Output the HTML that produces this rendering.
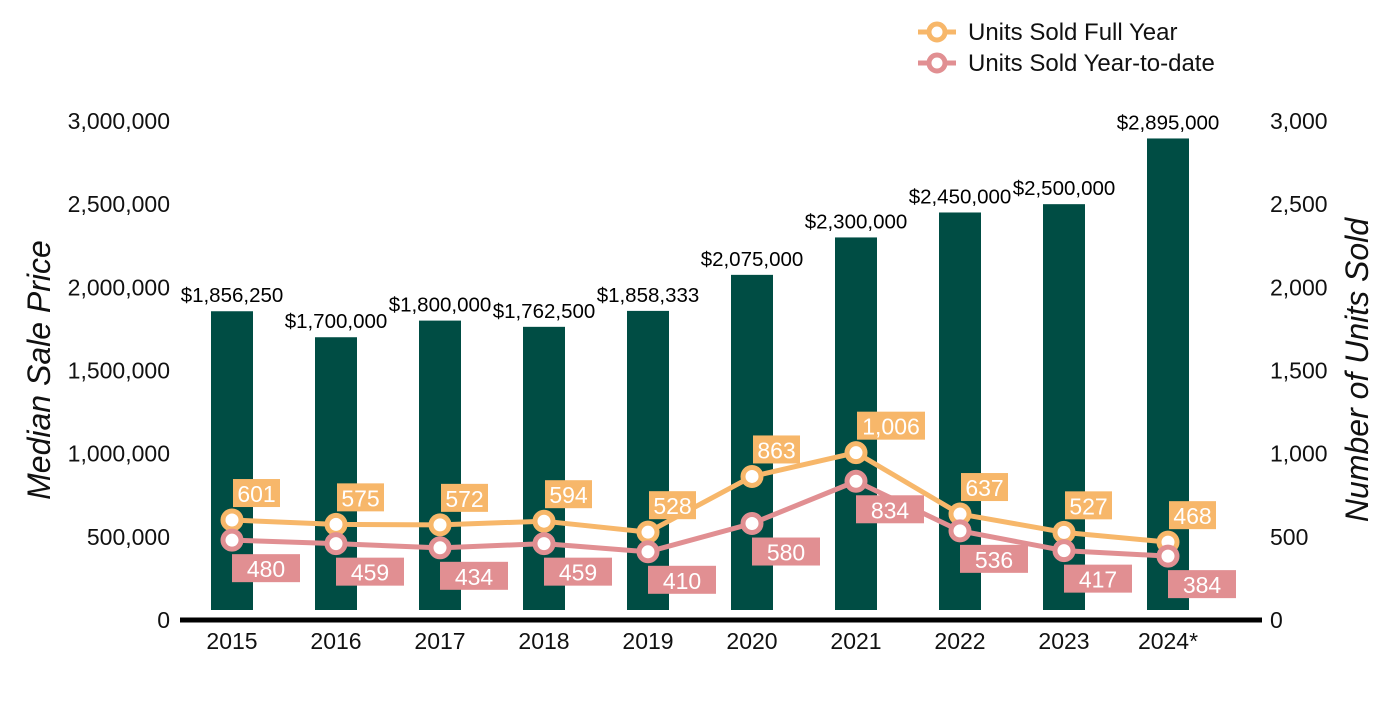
<!DOCTYPE html>
<html><head><meta charset="utf-8"><style>
body{margin:0;background:#fff;font-family:"Liberation Sans",Arial,sans-serif}
svg text{font-family:"Liberation Sans",Arial,sans-serif}
</style></head><body>
<svg id="c" width="1400" height="700"></svg>
<script>
const years=["2015","2016","2017","2018","2019","2020","2021","2022","2023","2024*"];
const prices=[1856250,1700000,1800000,1762500,1858333,2075000,2300000,2450000,2500000,2895000];
const fullYear=[601,575,572,594,528,863,1006,637,527,468];
const ytd=[480,459,434,459,410,580,834,536,417,384];
const leftTicks=[0,500000,1000000,1500000,2000000,2500000,3000000];
const rightTicks=[0,500,1000,1500,2000,2500,3000];
const NS="http://www.w3.org/2000/svg";
const svg=document.getElementById('c');
const y0=620,y3=121;
const yL=v=>y0-(v/3000000)*(y0-y3);
const yR=v=>y0-(v/3000)*(y0-y3);
const xC=i=>232+i*104;
const fmt=n=>n.toLocaleString('en-US');
function el(t,a,txt){const e=document.createElementNS(NS,t);for(const k in a)e.setAttribute(k,a[k]);if(txt!=null)e.textContent=txt;svg.appendChild(e);return e;}
leftTicks.forEach(v=>{const e=el('text',{x:170,y:yL(v)+8,'text-anchor':'end','font-size':23,fill:'#111'},fmt(v));

});
rightTicks.forEach(v=>{const e=el('text',{x:1270,y:yR(v)+8,'font-size':23,fill:'#111'},fmt(v));

});
let t=el('text',{x:0,y:0,'font-size':32,'font-style':'italic',fill:'#111','text-anchor':'middle',transform:'translate(50,370) rotate(-90)'},'Median Sale Price');

t=el('text',{x:0,y:0,'font-size':32,'font-style':'italic',fill:'#111','text-anchor':'middle',transform:'translate(1368,370) rotate(-90)'},'Number of Units Sold');

prices.forEach((p,i)=>{const b=el('rect',{x:xC(i)-21,y:yL(p),width:42,height:610-yL(p),fill:'#004d44'});


const l=el('text',{x:xC(i),y:yL(p)-9,'text-anchor':'middle','font-size':20.5,fill:'#000'},'$'+fmt(p));

});
const ax=el('line',{x1:180,x2:1262,y1:620,y2:620,stroke:'#000','stroke-width':5});

years.forEach((y,i)=>{const e=el('text',{x:xC(i),y:649,'text-anchor':'middle','font-size':23,fill:'#111'},y);

});
function series(data,color,above,name){
 const pl=el('polyline',{points:data.map((v,i)=>xC(i)+','+yR(v)).join(' '),fill:'none',stroke:color,'stroke-width':5});
 
 data.forEach((v,i)=>{const c=el('circle',{cx:xC(i),cy:yR(v),r:9,fill:'#fff',stroke:color,'stroke-width':5});
 
 const s=fmt(v);const w=above?(s.length>3?68:47):68;
 const bx=above?xC(i)+1:xC(i);const by=above?yR(v)-41:yR(v)+14;
 const r=el('rect',{x:bx,y:by,width:w,height:28,fill:color});
 
 const tx=el('text',{x:bx+w/2,y:by+23,'text-anchor':'middle','font-size':23,fill:'#fff'},s);
 });
}
series(fullYear,'#f7b76a',true,'full-year');
series(ytd,'#e18f92',false,'ytd');
[['Units Sold Full Year','#f7b76a',32],['Units Sold Year-to-date','#e18f92',63]].forEach(([n,c,y])=>{
 const l=el('line',{x1:918,x2:956,y1:y,y2:y,stroke:c,'stroke-width':5});
 
 const ci=el('circle',{cx:937,cy:y,r:8,fill:'#fff',stroke:c,'stroke-width':5});
 
 const tx=el('text',{x:968,y:y+8,'font-size':24,fill:'#111'},n);
 });
</script></body></html>
